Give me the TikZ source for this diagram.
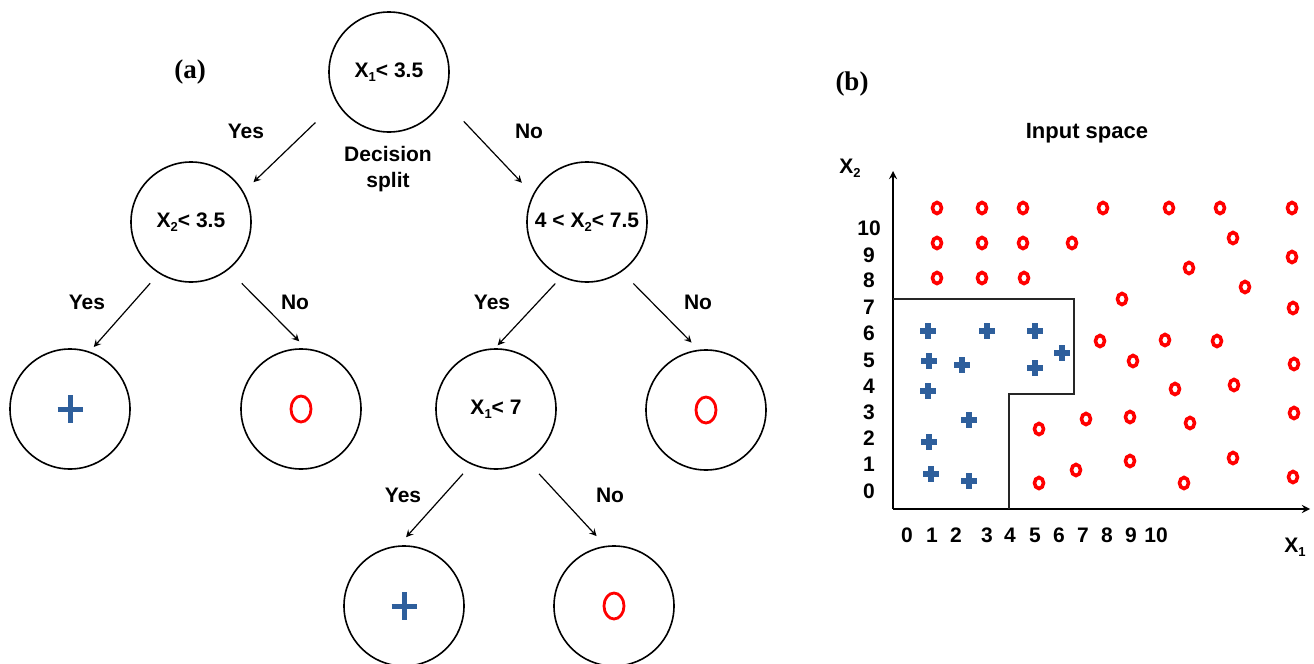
\documentclass[tikz,border=0pt]{standalone}
\usepackage{fontspec}
\setmainfont{Liberation Sans}
\newfontfamily\panelfont{Liberation Serif}
\usepackage{xcolor}
\definecolor{xblue}{HTML}{2E5F9C}
\definecolor{xred}{HTML}{FF0000}
\newcommand{\sub}[1]{\raisebox{-0.35ex}{\fontsize{6.5}{7}\selectfont#1}}
\tikzset{
	arrow/.style={->, >=stealth, line width=0.6pt},
	axis/.style={->, >=stealth, line width=0.8pt},
	split/.style={circle, draw, line width=0.8pt, minimum size=60pt, inner sep=0pt,
		font=\fontsize{10.5}{12.6}\selectfont\bfseries},
	answer/.style={font=\fontsize{10.5}{12.6}\selectfont\bfseries},
	panel/.style={font=\panelfont\fontsize{13.5}{16}\selectfont\bfseries},
	pmark/.style={xblue, line width=2.6pt},
	omark/.style={xred, line width=1.8pt},
	bigplus/.style={xblue, line width=2.5pt},
	bigo/.style={xred, line width=1.4pt},
}

\begin{document}
\begin{tikzpicture}[x=0.5pt, y=-0.5pt]
	\useasboundingbox (0,0) rectangle (1314,664);

	% (a) decision tree
	\node[panel] (pa) at (190,72) {(a)};
	\node[split] (root) at (389,72) {X\sub{1}< 3.5};
	\node[split] (n2) at (191,222) {X\sub{2}< 3.5};
	\node[split] (n3) at (587,222) {4 < X\sub{2}< 7.5};
	\node[split] (l1) at (70,409) {};
	\node[split] (l2) at (301,409) {};
	\node[split] (n4) at (496,409) {X\sub{1}< 7};
	\node[split] (l3) at (706,410) {};
	\node[split] (l4) at (404,606) {};
	\node[split] (l5) at (614,606) {};

	\draw[bigplus] (l1.center) ++(-12.5,0) -- ++(25,0) (l1.center) ++(0,-14) -- ++(0,28);
	\draw[bigo] (l2.center) ellipse (10 and 13);
	\draw[bigo] (l3.center) ellipse (10 and 13);
	\draw[bigplus] (l4.center) ++(-12.5,0) -- ++(25,0) (l4.center) ++(0,-14) -- ++(0,28);
	\draw[bigo] (l5.center) ellipse (10 and 13);

	\draw[arrow, shorten <=14.5pt, shorten >=6.8pt] (root.210) -- (n2.30);
	\draw[arrow, shorten <=15pt, shorten >=8pt] (root.333) -- (n3.153);
	\draw[arrow, shorten <=6.5pt, shorten >=3pt] (n2.238) -- (l1.71);
	\draw[arrow, shorten <=9.5pt, shorten >=5pt] (n2.308) -- (l2.85);
	\draw[arrow, shorten <=4.4pt, shorten >=2pt] (n3.245) -- (n4.91);
	\draw[arrow, shorten <=8.2pt, shorten >=5pt] (n3.305) -- (l3.97);
	\draw[arrow, shorten <=6.2pt, shorten >=5.5pt] (n4.246) -- (l4.95);
	\draw[arrow, shorten <=8.7pt, shorten >=6.6pt] (n4.301) -- (l5.98);

	\node[answer] (y1) at (246,131) {Yes};
	\node[answer] (no1) at (529,131) {No};
	\node[answer, align=center] (ds) at (388,169) {Decision\\split};
	\node[answer] (y2) at (87,302) {Yes};
	\node[answer] (no2) at (295,302) {No};
	\node[answer] (y3) at (492,302) {Yes};
	\node[answer] (no3) at (698,302) {No};
	\node[answer] (y4) at (403,495) {Yes};
	\node[answer] (no4) at (610,495) {No};

	% (b) input space
	\node[panel] (pb) at (852,84) {(b)};
	\node[answer, font=\fontsize{11}{13}\selectfont\bfseries] (title) at (1087,133) {Input space};
	\coordinate (O) at (893,509);
	\coordinate (ytop) at (893,171);
	\coordinate (xend) at (1310,509);
	\draw[axis] (O) -- (ytop);
	\draw[axis] (O) -- (xend);
	\node[answer] (ylab) at (850,168) {X\sub{2}};
	\node[answer] (xlab) at (1295,547) {X\sub{1}};

	\foreach \v [count=\i from 0] in {491,464,438,412,386,360,333,307,280,255,228}
		\node[answer] at (869,\v) {\i};
	\foreach \u [count=\i from 0] in {907,932,956,987,1010,1035,1059,1083,1107,1131,1156}
		\node[answer] at (\u,535) {\i};

	% decision boundary
	\draw[line width=0.7pt, black!85] (893,299) -| (1074,394) -| (1009,509);

	% class +
	\foreach \x/\y in {928/331, 987/331, 1035/331, 1062/353, 929/361, 962/365,
		1035/368, 928/391, 969/420, 929/442, 931/474, 969/481}
		\draw[pmark] (\x,\y) ++(-8,0) -- ++(16,0) (\x,\y) ++(0,-8) -- ++(0,16);

	% class o
	\foreach \x/\y in {937/208, 982/208, 1023/208, 1103/208, 1169/208, 1220/208, 1292/208,
		937/243, 982/243, 1023/243, 1072/243, 1233/238, 1292/257,
		937/278, 982/278, 1024/278, 1189/268, 1245/287, 1122/299, 1293/308,
		1100/341, 1165/340, 1217/341, 1133/361, 1294/364, 1175/389, 1234/385,
		1086/419, 1130/417, 1190/423, 1294/413, 1039/429, 1039/483, 1076/470,
		1130/461, 1233/458, 1184/483, 1293/477}
		\draw[omark] (\x,\y) ellipse (4.5 and 5.5);
\end{tikzpicture}
\end{document}
